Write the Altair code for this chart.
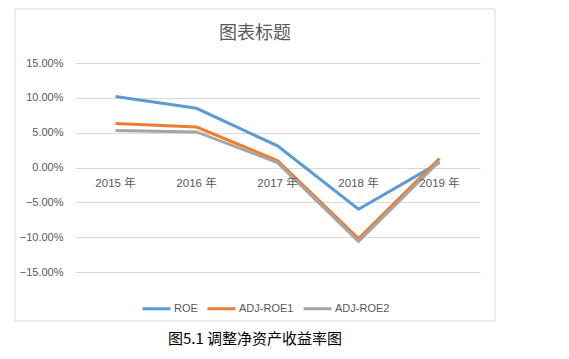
import altair as alt
import pandas as pd

years = ["2015 年", "2016 年", "2017 年", "2018 年", "2019 年"]
series_names = ["ROE", "ADJ-ROE1", "ADJ-ROE2"]
roe = [0.102, 0.085, 0.031, -0.060, 0.007]
adj_roe1 = [0.063, 0.058, 0.010, -0.102, 0.013]
adj_roe2 = [0.053, 0.051, 0.007, -0.106, 0.009]
colors = ["#5B9BD5", "#ED7D31", "#A5A5A5"]
y_ticks = [-0.15, -0.10, -0.05, 0.0, 0.05, 0.10, 0.15]
title_text = "图表标题"
caption_text = "图5.1  调整净资产收益率图"

rows = []
for name, vals in zip(series_names, [roe, adj_roe1, adj_roe2]):
    for i, (yr, v) in enumerate(zip(years, vals)):
        rows.append({"year": yr, "series": name, "value": v, "order": series_names.index(name)})
df = pd.DataFrame(rows)
df_years = pd.DataFrame({"year": years})
one = pd.DataFrame({"a": [0]})

FONT = "Liberation Sans, Noto Sans CJK SC, sans-serif"
GRAY = "#595959"

x_enc = alt.X("year:N", sort=years, axis=None,
              scale=alt.Scale(domain=years, paddingOuter=0.5, paddingInner=0))

frame = alt.Chart(one).mark_rect(fillOpacity=0, stroke="#D9D9D9", strokeWidth=1).encode(
    x=alt.value(-60), x2=alt.value(420), y=alt.value(-54), y2=alt.value(258)
)

lines = alt.Chart(df).mark_line(strokeWidth=3).encode(
    x=x_enc,
    y=alt.Y("value:Q",
            scale=alt.Scale(domain=[-0.15, 0.15], nice=False, zero=False),
            axis=alt.Axis(values=y_ticks, tickCount=20, format=".2%", title=None, domain=False,
                          ticks=False, labelOverlap=False,
                          labelPadding=12, labelColor=GRAY, labelFontSize=11, labelFont=FONT,
                          gridColor="#D9D9D9", gridWidth=1)),
    color=alt.Color("series:N", sort=series_names,
                    scale=alt.Scale(domain=series_names, range=colors),
                    legend=alt.Legend(title=None, orient="none", direction="horizontal",
                                      legendX=66, legendY=230, symbolType="stroke",
                                      symbolSize=784, symbolStrokeWidth=3, labelOffset=2,
                                      columnPadding=3, labelFontSize=11, labelColor=GRAY,
                                      labelFont=FONT)),
    order=alt.Order("order:Q"),
    detail="series:N",
)

xlabels = alt.Chart(df_years).mark_text(dy=16, fontSize=11.5, color=GRAY, font=FONT).encode(
    x=x_enc,
    y=alt.YDatum(0),
    text="year:N",
)

title = alt.Chart(one).mark_text(fontSize=18, color=GRAY, font=FONT, text=title_text).encode(
    x=alt.value(180), y=alt.value(-29)
)

caption = alt.Chart(one).mark_text(fontSize=15, color="#000000", font="Noto Sans CJK SC",
                                   text=caption_text).encode(
    x=alt.value(180), y=alt.value(276)
)

chart = alt.layer(frame, lines, xlabels, title, caption).properties(
    width=405, height=209,
    padding={"left": 6, "top": 0, "right": 5, "bottom": 5},
).configure_view(strokeWidth=0)

chart.save("out.html", embed_options={"renderer": "svg", "actions": False})
